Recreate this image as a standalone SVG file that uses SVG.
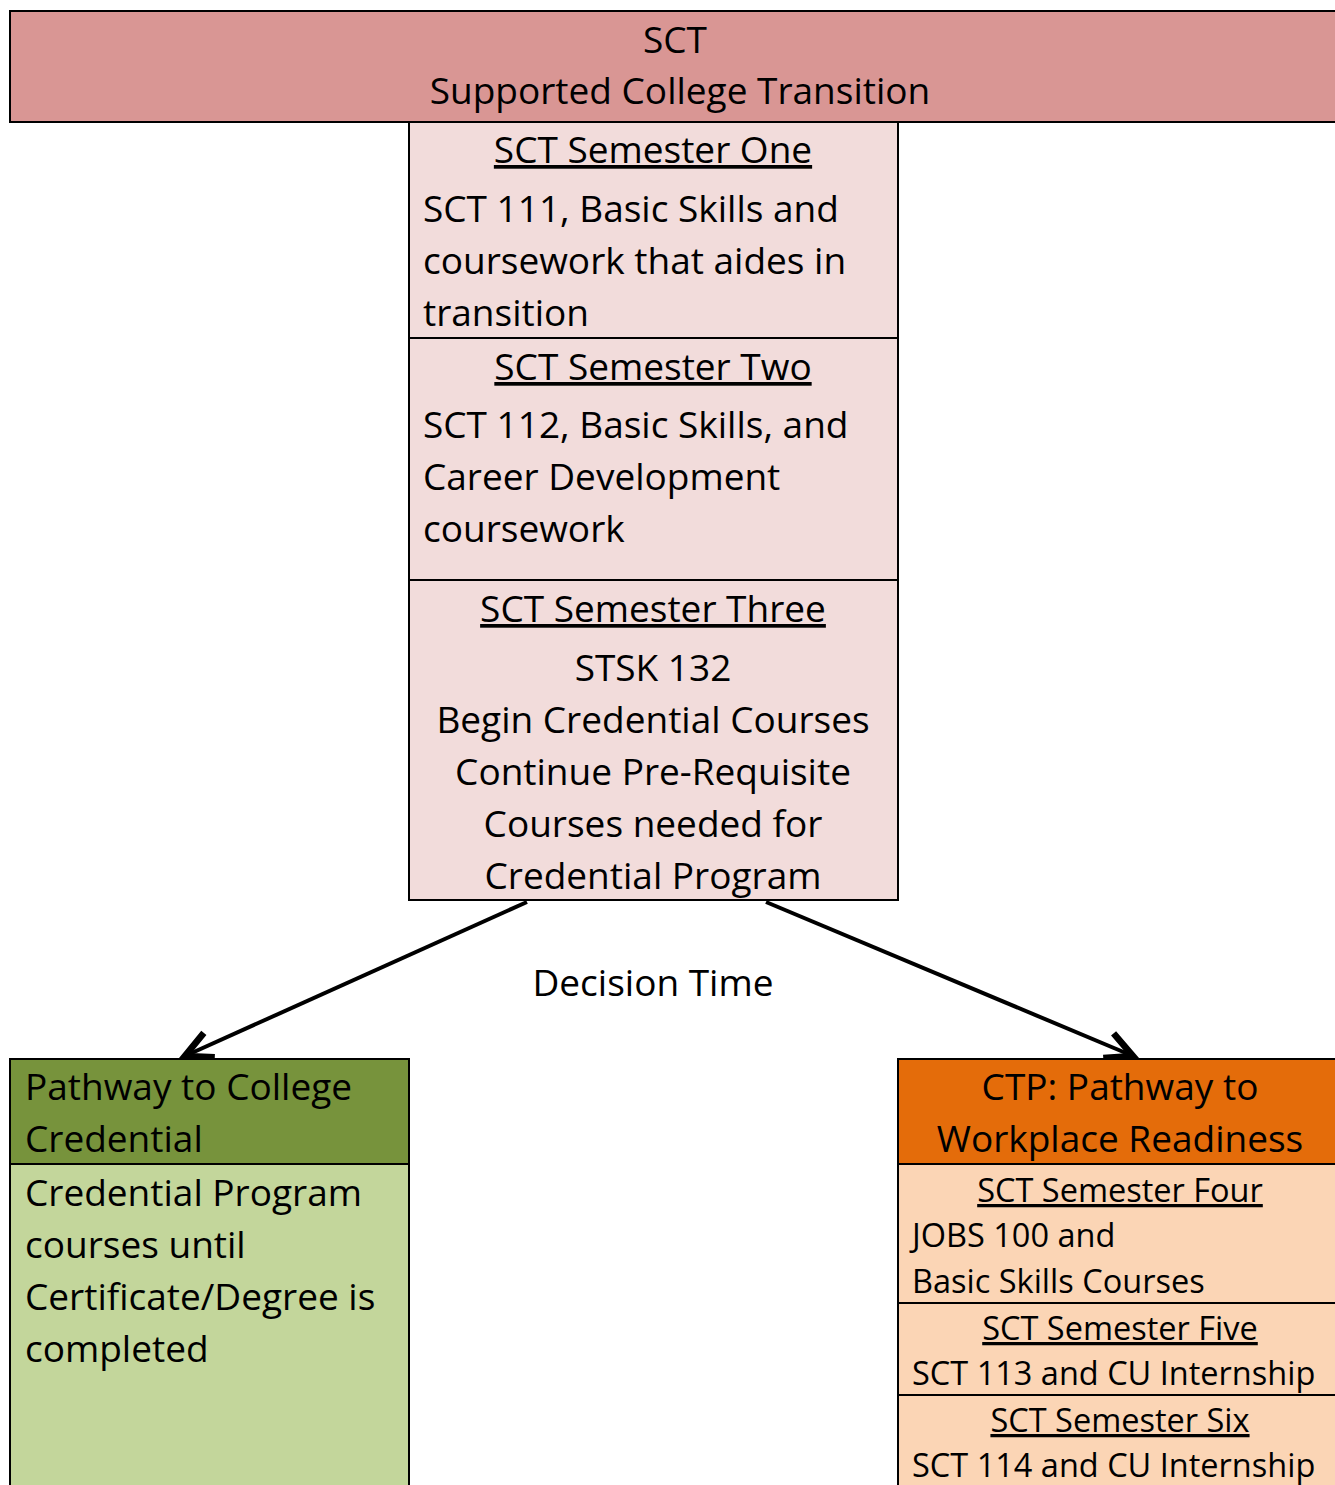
<svg xmlns="http://www.w3.org/2000/svg" width="1335" height="1485" viewBox="0 0 1335 1485">
<defs>
<style>
text{font-family:"Open Sans","Liberation Sans",sans-serif;fill:#000;}
.t{font-size:37px;}
.s{font-size:32.5px;}
.c{text-anchor:middle;}
.u{text-decoration:underline;}
.box{stroke:#000;stroke-width:2;}
.conn{stroke:#000;stroke-width:4;fill:none;}
</style>
<marker id="arr" markerUnits="userSpaceOnUse" markerWidth="40" markerHeight="40" refX="20" refY="10" orient="auto" viewBox="0 0 24 20">
<path d="M4,2 L20,10 L4,18" fill="none" stroke="#000" stroke-width="4"/>
</marker>
</defs>
<rect width="1335" height="1485" fill="#fff"/>
<g id="sct-header">
<rect class="box" x="10" y="11" width="1340" height="111" fill="#D99694"/>
<text class="t c" x="675" y="53">SCT</text>
<text class="t c" x="680" y="104">Supported College Transition</text>
</g>
<g id="semester-one">
<rect class="box" x="409" y="122" width="489" height="216" fill="#F2DCDB"/>
<text class="t c u" x="653" y="163">SCT Semester One</text>
<text class="t" x="423" y="222">SCT 111, Basic Skills and</text>
<text class="t" x="423" y="274">coursework that aides in</text>
<text class="t" x="423" y="326">transition</text>
</g>
<g id="semester-two">
<rect class="box" x="409" y="338" width="489" height="242" fill="#F2DCDB"/>
<text class="t c u" x="653" y="380">SCT Semester Two</text>
<text class="t" x="423" y="438">SCT 112, Basic Skills, and</text>
<text class="t" x="423" y="490">Career Development</text>
<text class="t" x="423" y="542">coursework</text>
</g>
<g id="semester-three">
<rect class="box" x="409" y="580" width="489" height="320" fill="#F2DCDB"/>
<text class="t c u" x="653" y="622">SCT Semester Three</text>
<text class="t c" x="653" y="681">STSK 132</text>
<text class="t c" x="653" y="733">Begin Credential Courses</text>
<text class="t c" x="653" y="785">Continue Pre-Requisite</text>
<text class="t c" x="653" y="837">Courses needed for</text>
<text class="t c" x="653" y="889">Credential Program</text>
</g>
<g id="connectors">
<line class="conn" x1="527" y1="902" x2="185" y2="1056" marker-end="url(#arr)"/>
<line class="conn" x1="766" y1="902" x2="1133" y2="1056" marker-end="url(#arr)"/>
<text class="t c" x="653" y="996">Decision Time</text>
</g>
<g id="college-credential">
<rect class="box" x="10" y="1059" width="399" height="105" fill="#77933C"/>
<text class="t" x="25" y="1100">Pathway to College</text>
<text class="t" x="25" y="1152">Credential</text>
<rect class="box" x="10" y="1164" width="399" height="330" fill="#C3D69B"/>
<text class="t" x="25" y="1206">Credential Program</text>
<text class="t" x="25" y="1258">courses until</text>
<text class="t" x="25" y="1310">Certificate/Degree is</text>
<text class="t" x="25" y="1362">completed</text>
</g>
<g id="workplace-readiness">
<rect class="box" x="898" y="1059" width="450" height="105" fill="#E46C0A"/>
<text class="t c" x="1120" y="1100">CTP: Pathway to</text>
<text class="t c" x="1120" y="1152">Workplace Readiness</text>
</g>
<g id="semester-four">
<rect class="box" x="898" y="1164" width="450" height="139" fill="#FBD5B5"/>
<text class="s c u" x="1120" y="1202">SCT Semester Four</text>
<text class="s" x="912" y="1247">JOBS 100 and</text>
<text class="s" x="912" y="1293">Basic Skills Courses</text>
</g>
<g id="semester-five">
<rect class="box" x="898" y="1303" width="450" height="92" fill="#FBD5B5"/>
<text class="s c u" x="1120" y="1340">SCT Semester Five</text>
<text class="s" x="912" y="1385">SCT 113 and CU Internship</text>
</g>
<g id="semester-six">
<rect class="box" x="898" y="1395" width="450" height="100" fill="#FBD5B5"/>
<text class="s c u" x="1120" y="1432">SCT Semester Six</text>
<text class="s" x="912" y="1477">SCT 114 and CU Internship</text>
</g>
</svg>
